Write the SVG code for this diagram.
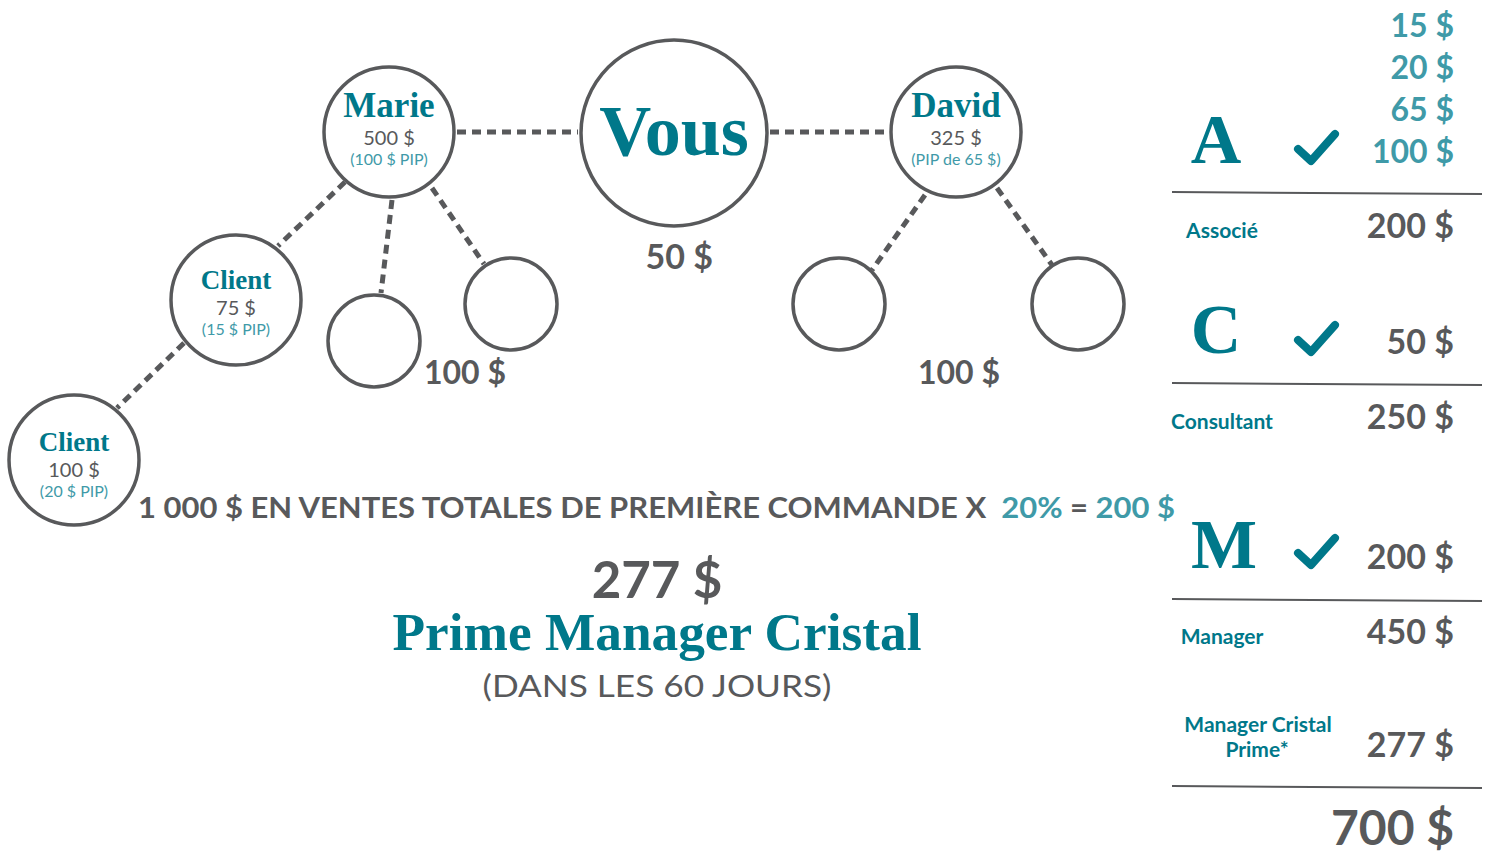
<svg xmlns="http://www.w3.org/2000/svg" width="1492" height="857" viewBox="0 0 1492 857">
<style>
.node{fill:#fff;stroke:#58595b;stroke-width:3.5}
.conn line{stroke:#58595b;stroke-width:5;stroke-dasharray:9 6}
.serif{font-family:"Liberation Serif","DejaVu Serif",serif;font-weight:bold;fill:#00788a}
.sans{font-family:Lato,"Liberation Sans",sans-serif}
.gray{fill:#58595b}
.lt{fill:#3f9aa8}
.dk{fill:#00788a}
.amt{font-family:Lato,"Liberation Sans",sans-serif;font-weight:700;font-size:34px;fill:#58595b;text-anchor:end}
.amt.lt{fill:#3f9aa8}
.lbl{font-family:Lato,"Liberation Sans",sans-serif;font-weight:700;font-size:21px;fill:#00788a;text-anchor:middle}
.rule{stroke:#58595b;stroke-width:2}
.check{fill:none;stroke:#00788a;stroke-width:8;stroke-linecap:round;stroke-linejoin:round}
</style>
<rect width="1492" height="857" fill="#fff"/>
<g id="connectors" class="conn">
<line x1="457" y1="132" x2="578" y2="132"/>
<line x1="770" y1="132" x2="889" y2="132"/>
<line x1="345" y1="182" x2="278" y2="246"/>
<line x1="184" y1="343" x2="117" y2="408"/>
<line x1="392" y1="200" x2="381" y2="293"/>
<line x1="432" y1="188" x2="484" y2="264"/>
<line x1="925" y1="195" x2="872" y2="270"/>
<line x1="997" y1="188" x2="1052" y2="265"/>
</g>
<g id="vous"><circle class="node" cx="674" cy="133" r="93"/>
<text class="serif" x="674" y="155" font-size="72" text-anchor="middle">Vous</text></g>
<g id="marie"><circle class="node" cx="389" cy="132" r="65"/>
<text class="serif" x="389" y="117" font-size="35" text-anchor="middle">Marie</text>
<text class="sans gray" x="389" y="145" font-size="20" text-anchor="middle">500 $</text>
<text class="sans lt" x="389" y="165" font-size="16" text-anchor="middle">(100 $ PIP)</text></g>
<g id="david"><circle class="node" cx="956" cy="132" r="65"/>
<text class="serif" x="956" y="117" font-size="35" text-anchor="middle">David</text>
<text class="sans gray" x="956" y="145" font-size="20" text-anchor="middle">325 $</text>
<text class="sans lt" x="956" y="165" font-size="16" text-anchor="middle">(PIP de 65 $)</text></g>
<g id="client1"><circle class="node" cx="236" cy="300" r="65"/>
<text class="serif" x="236" y="289" font-size="27" text-anchor="middle">Client</text>
<text class="sans gray" x="236" y="315" font-size="20" text-anchor="middle">75 $</text>
<text class="sans lt" x="236" y="335" font-size="16" text-anchor="middle">(15 $ PIP)</text></g>
<g id="client2"><circle class="node" cx="74" cy="460" r="65"/>
<text class="serif" x="74" y="451" font-size="27" text-anchor="middle">Client</text>
<text class="sans gray" x="74" y="477" font-size="20" text-anchor="middle">100 $</text>
<text class="sans lt" x="74" y="497" font-size="16" text-anchor="middle">(20 $ PIP)</text></g>
<g id="empty1"><circle class="node" cx="374" cy="341" r="46"/></g>
<g id="empty2"><circle class="node" cx="511" cy="304" r="46"/></g>
<g id="empty3"><circle class="node" cx="839" cy="304" r="46"/></g>
<g id="empty4"><circle class="node" cx="1078" cy="304" r="46"/></g>
<g id="labels">
<text class="amt" x="713" y="269">50 $</text>
<text class="amt" x="506" y="384" style="font-size:32px">100 $</text>
<text class="amt" x="1000" y="384" style="font-size:32px">100 $</text>
<text class="sans gray" x="138" y="518" font-size="28" font-weight="700" textLength="1037" lengthAdjust="spacingAndGlyphs">1 000 $ EN VENTES TOTALES DE PREMIÈRE COMMANDE X&#160; <tspan class="lt">20%</tspan> = <tspan class="lt">200 $</tspan></text>
<text class="sans gray" x="657" y="598" font-size="51" font-weight="700" text-anchor="middle">277 $</text>
<text class="serif" x="657" y="650" font-size="53" text-anchor="middle" textLength="529" lengthAdjust="spacingAndGlyphs">Prime Manager Cristal</text>
<text class="sans gray" x="657" y="697" font-size="30" text-anchor="middle" textLength="349" lengthAdjust="spacingAndGlyphs">(DANS LES 60 JOURS)</text>
</g>
<g id="table">
<text class="amt lt" x="1454" y="37" style="font-size:32px">15 $</text>
<text class="amt lt" x="1454" y="79" style="font-size:32px">20 $</text>
<text class="amt lt" x="1454" y="121" style="font-size:32px">65 $</text>
<text class="amt lt" x="1454" y="163" style="font-size:32px">100 $</text>
<text class="serif" x="1216" y="163" font-size="70" text-anchor="middle">A</text>
<path class="check" d="M1298 149 L1311 161 L1335 134"/>
<line class="rule" x1="1172" y1="192" x2="1482" y2="194"/>
<text class="lbl" x="1222" y="238">Associé</text>
<text class="amt" x="1454" y="238">200 $</text>
<text class="serif" x="1216" y="353" font-size="70" text-anchor="middle">C</text>
<path class="check" d="M1298 340 L1311 352 L1335 325"/>
<text class="amt" x="1454" y="354">50 $</text>
<line class="rule" x1="1172" y1="383" x2="1482" y2="385"/>
<text class="lbl" x="1222" y="429">Consultant</text>
<text class="amt" x="1454" y="429">250 $</text>
<text class="serif" x="1224" y="568" font-size="70" text-anchor="middle">M</text>
<path class="check" d="M1298 553 L1311 565 L1335 538"/>
<text class="amt" x="1454" y="569">200 $</text>
<line class="rule" x1="1172" y1="599" x2="1482" y2="601"/>
<text class="lbl" x="1222" y="644">Manager</text>
<text class="amt" x="1454" y="644">450 $</text>
<text class="lbl" x="1258" y="732">Manager Cristal</text>
<text class="lbl" x="1257" y="757">Prime*</text>
<text class="amt" x="1454" y="757">277 $</text>
<line class="rule" x1="1172" y1="786" x2="1482" y2="788"/>
<text class="amt" x="1454" y="845" style="font-size:48px">700 $</text>
</g>
</svg>
